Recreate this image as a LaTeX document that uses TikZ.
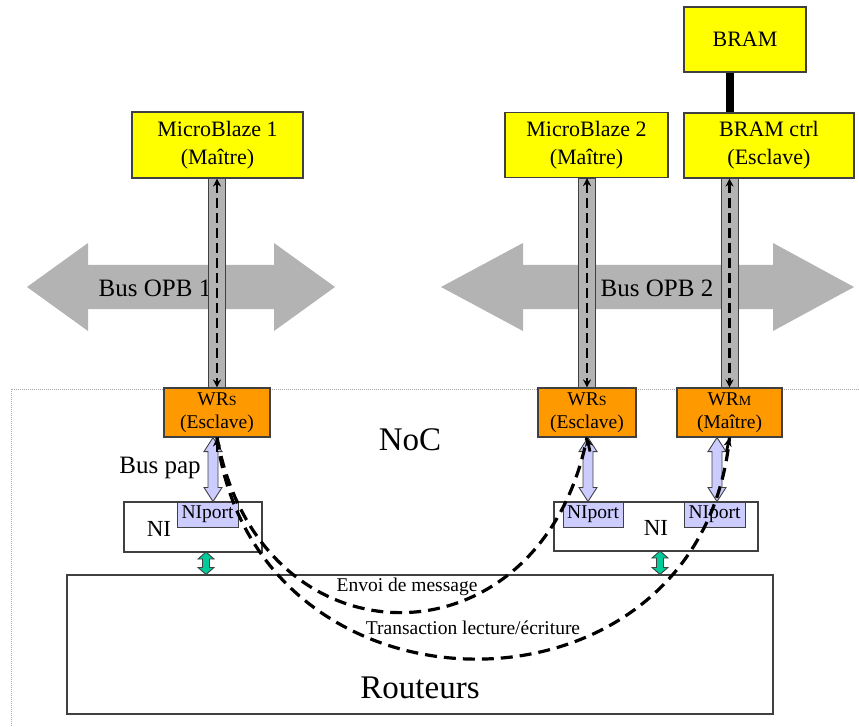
\documentclass[tikz,border=0pt]{standalone}
\usepackage{fontspec}
\setmainfont{Liberation Serif}
\usetikzlibrary{arrows.meta,calc}
\definecolor{yel}{HTML}{FFFF00}
\definecolor{org}{HTML}{FF9900}
\definecolor{lav}{HTML}{CCCCFF}
\definecolor{grn}{HTML}{00CC99}
\definecolor{opb}{HTML}{B3B3B3}
\definecolor{bord}{HTML}{404040}
\newcommand{\fatvarrow}[6]{%
 \path[#1] let \p1=(#2), \p2=(#3) in
 (\x1,\y1) -- (\x1+#5,\y1-#6) -- (\x1+#4,\y1-#6) -- (\x1+#4,\y2+#6) -- (\x1+#5,\y2+#6) -- (\x1,\y2) -- (\x1-#5,\y2+#6) -- (\x1-#4,\y2+#6) -- (\x1-#4,\y1-#6) -- (\x1-#5,\y1-#6) -- cycle;}
\tikzset{
 box/.style={draw=bord, line width=1.1pt, align=center, inner sep=0pt, font=\fontsize{22}{28}\selectfont},
 yb/.style={box, fill=yel},
 wrb/.style={box, fill=org, font=\fontsize{19.5}{23}\selectfont},
 nib/.style={draw=bord, line width=1.1pt, fill=white, inner sep=0pt},
 portb/.style={draw=bord, line width=1pt, fill=lav, inner sep=0pt, font=\fontsize{19.5}{19.5}\selectfont},
 barb/.style={draw=bord, line width=1pt, fill=opb},
 dasharr/.style={draw=black, line width=2.9pt, dash pattern=on 10pt off 5pt,
   {Stealth[length=8pt,width=8pt]}-{Stealth[length=8pt,width=8pt]}},
 curvarr/.style={draw=black, line width=3.2pt, dash pattern=on 12pt off 7pt},
 tip/.style={-{Stealth[length=9pt,width=8pt]}},
 lavarr/.style={draw=bord, line width=0.9pt, fill=lav},
 grnarr/.style={draw=bord, line width=0.9pt, fill=grn},
 lbl/.style={inner sep=0pt},
}
\begin{document}
\begin{tikzpicture}[x=1pt,y=-1pt]
\useasboundingbox (0,0) rectangle (859,727);
% NoC region border
\draw[gray!70, line width=0.8pt, dash pattern=on 1pt off 1pt] (859,389) -- (11,389) -- (11,727);
% OPB buses
\fill[opb] (27,287) -- (88,243) -- (88,265) -- (274,265) -- (274,243) -- (335,287)
  -- (274,331) -- (274,309) -- (88,309) -- (88,331) -- cycle;
\fill[opb] (441,287) -- (523,243) -- (523,265) -- (773,265) -- (773,243) -- (854,287)
  -- (773,331) -- (773,309) -- (523,309) -- (523,331) -- cycle;
\node[lbl, font=\fontsize{25}{25}\selectfont] (opb1) at (155,288) {Bus OPB 1};
\node[lbl, font=\fontsize{25}{25}\selectfont] (opb2) at (657,288) {Bus OPB 2};
% boxes
\node[yb, minimum width=171pt, minimum height=66pt] (mb1) at (217.5,145) {MicroBlaze 1\\(Maître)};
\node[yb, minimum width=163pt, minimum height=65pt] (mb2) at (586.5,145) {MicroBlaze 2\\(Maître)};
\node[yb, minimum width=170pt, minimum height=65pt] (bctrl) at (769,145.5) {BRAM ctrl\\(Esclave)};
\node[yb, minimum width=122pt, minimum height=65pt] (bram) at (745,39.5) {BRAM};
\node[wrb, minimum width=106pt, minimum height=49pt] (wr1) at (217,412.5) {WR{\fontsize{14}{14}\selectfont S}\\(Esclave)};
\node[wrb, minimum width=98pt, minimum height=49pt] (wr2) at (587,412.5) {WR{\fontsize{14}{14}\selectfont S}\\(Esclave)};
\node[wrb, minimum width=105pt, minimum height=49pt] (wr3) at (729.5,412.5) {WR{\fontsize{14}{14}\selectfont M}\\(Maître)};
% gray bars with dashed arrows
\foreach \w/\m in {wr1/mb1, wr2/mb2, wr3/bctrl}{
  \coordinate (\w top) at (\w.north |- \m.south);
  \path[barb] ([xshift=-8.5pt]\w top) rectangle ([xshift=8.5pt]\w.north);
  \draw[dasharr] (\w top) -- (\w.north);
}
% BRAM link
\draw[line width=8pt] (wr3.north |- bram.south) -- (wr3.north |- bctrl.north);
% NI boxes
\node[nib, minimum width=138pt, minimum height=50pt] (ni1) at (193,527) {};
\node[nib, minimum width=204pt, minimum height=49pt] (ni2) at (656,526.5) {};
\node[lbl, font=\fontsize{23}{23}\selectfont] (ni1t) at (159,529) {NI};
\node[lbl, font=\fontsize{23}{23}\selectfont] (ni2t) at (656,528) {NI};
\node[portb, minimum width=61pt, minimum height=25pt] (p1) at (207.5,514.5) {NIport};
\node[portb, minimum width=60pt, minimum height=25pt] (p2) at (593,514.5) {NIport};
\node[portb, minimum width=61pt, minimum height=25pt] (p3) at (714.5,514.5) {NIport};
% bus pap arrows
\coordinate (a1t) at ([xshift=-4pt]wr1.south);
\coordinate (a1b) at (a1t |- p1.north);
\coordinate (a2t) at ([xshift=1pt]wr2.south);
\coordinate (a2b) at (a2t |- p2.north);
\coordinate (a3t) at ([xshift=-12.5pt]wr3.south);
\coordinate (a3b) at (a3t |- p3.north);
\fatvarrow{lavarr}{a1t}{a1b}{5pt}{9pt}{14pt}
\fatvarrow{lavarr}{a2t}{a2b}{5pt}{9pt}{14pt}
\fatvarrow{lavarr}{a3t}{a3b}{5pt}{9pt}{14pt}
\node[lbl, font=\fontsize{25}{25}\selectfont] (buspap) at (160,468) {Bus pap};
\node[lbl, font=\fontsize{33}{33}\selectfont] (noc) at (410,440) {NoC};
% routers
\node[nib, minimum width=706pt, minimum height=139pt] (rout) at (420,644.5) {};
\node[lbl, font=\fontsize{33}{33}\selectfont] (routt) at (420,688) {Routeurs};
% green arrows
\coordinate (g1t) at (206,552);
\coordinate (g1b) at (g1t |- rout.north);
\coordinate (g2t) at (660,551);
\coordinate (g2b) at (g2t |- rout.north);
\fatvarrow{grnarr}{g1t}{g1b}{3.5pt}{8pt}{7pt}
\fatvarrow{grnarr}{g2t}{g2b}{3.5pt}{8pt}{7pt}
% transactions
\draw[curvarr] (wr1.south) .. controls (260,671) and (540,671) .. (wr2.south);
\draw[curvarr] (wr1.south) .. controls (255,733) and (700,733) .. (wr3.south);
\draw[tip, line width=2.8pt] ([yshift=-14pt]wr1.south) -- (wr1.south);
\draw[tip, line width=2.8pt] ([xshift=3pt,yshift=-14pt]wr2.south) -- (wr2.south);
\draw[tip, line width=2.8pt] ([xshift=-3pt,yshift=-14pt]wr3.south) -- (wr3.south);
\node[lbl, font=\fontsize{19.5}{19.5}\selectfont] (envoi) at (407,587) {Envoi de message};
\node[lbl, font=\fontsize{19.5}{19.5}\selectfont] (trans) at (473,628) {Transaction lecture/écriture};
\end{tikzpicture}
\end{document}
